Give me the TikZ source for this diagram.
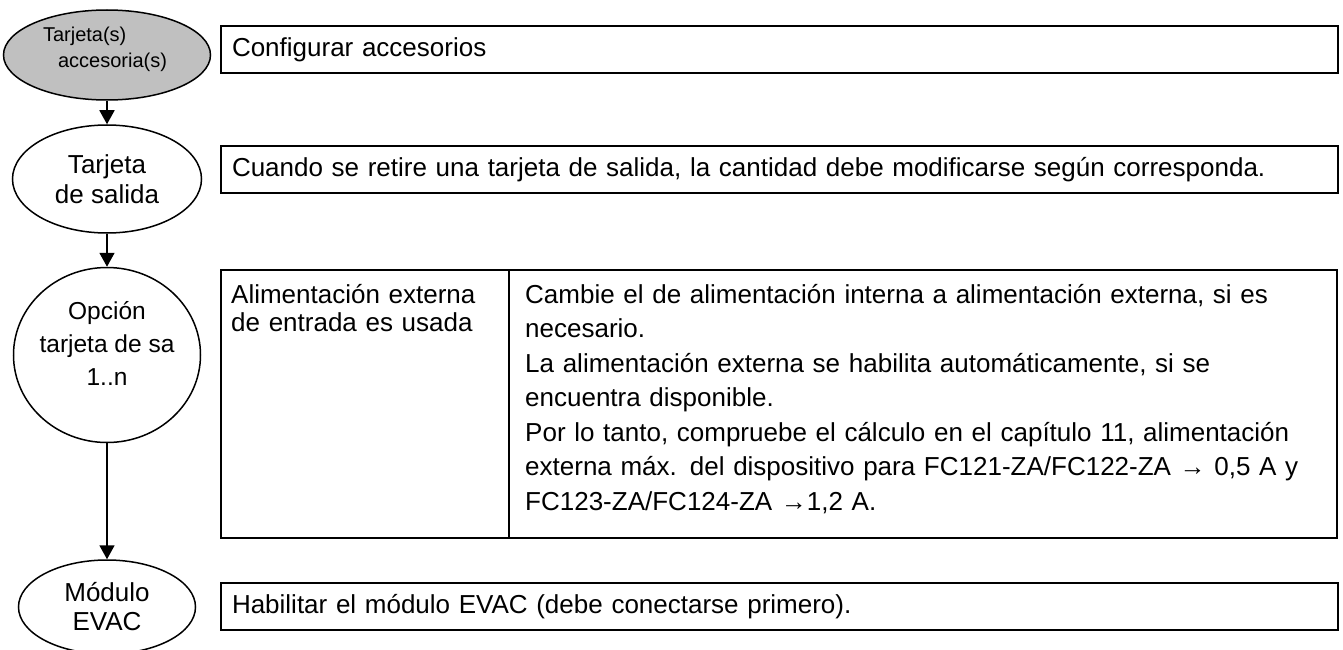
\documentclass[tikz,border=0pt]{standalone}
\usepackage{fontspec}
\setmainfont{Liberation Sans}
\usepackage{xcolor}
\definecolor{cardgray}{RGB}{192,192,192}
\usetikzlibrary{arrows.meta, positioning, shapes.geometric}

\tikzset{
  stage/.style={draw, ellipse, line width=1.5pt, inner sep=0pt, align=center,
                font=\fontsize{26}{30}\selectfont},
  infobox/.style={draw, rectangle, line width=2.6pt, outer sep=0pt, anchor=north west,
                  inner xsep=11pt, inner ysep=0pt, align=left,
                  font=\fontsize{26}{32}\selectfont},
  infotext/.style={anchor=base west, inner sep=0pt, align=left,
                   font=\fontsize{26}{34.5}\selectfont},
  flow/.style={line width=1.8pt, -{Triangle[length=14pt,width=15pt]}}
}

\begin{document}
\begin{tikzpicture}[x=1pt, y=-1pt]
\useasboundingbox (0,0) rectangle (1343,650);

% === Stages (left column) ===
\node[stage, fill=cardgray, minimum width=207pt, minimum height=90pt] (acc) at (107,55) {};
\node[font=\fontsize{20}{26}\selectfont, align=left, inner sep=0pt] (accTxt) at (105,49)
     {Tarjeta(s)\\\hspace{15pt}accesoria(s)};

\node[stage, minimum width=189pt, minimum height=108pt] (outcard) at (107,179) {Tarjeta\\de salida};

\node[stage, minimum width=187pt, minimum height=175pt] (optcard) at (107,355) {};
\node[font=\fontsize{24.5}{33}\selectfont, align=center, inner sep=0pt] (optTxt) at (107,343)
     {Opción\\tarjeta de sa\\1..n};

\node[stage, minimum width=177pt, minimum height=94pt, font=\fontsize{26}{29}\selectfont]
     (evac) at (107,607) {Módulo\\EVAC};

% Flow arrows
\draw[flow] (acc.south) -- (outcard.north);
\draw[flow] (outcard.south) -- (optcard.north);
\draw[flow] (optcard.south) -- (evac.north);

% === Boxes (right column) ===
\node[infobox, minimum width=1117pt, minimum height=47pt, text width=1095pt] (cfgbox) at (221,26)
     {Configurar accesorios};

\node[infobox, minimum width=1117pt, minimum height=47pt, text width=1095pt] (outbox) at (221,146)
     {Cuando se retire una tarjeta de salida, la cantidad debe modificarse según corresponda.};

% Option box: two cells
\node[infobox, minimum width=288pt, minimum height=268pt] (powcell) at (221,270) {};
\node[infobox, minimum width=828pt, minimum height=268pt] (notecell) at (powcell.north east) {};
\node[infotext, font=\fontsize{26}{28.5}\selectfont, text width=270pt] (powTxt)
     at ([xshift=10pt, yshift=-33pt]powcell.north west)
     {Alimentación externa\\de entrada es usada};
\node[infotext, text width=800pt] (noteTxt)
     at ([xshift=16pt, yshift=-33pt]notecell.north west)
     {Cambie el de alimentación interna a alimentación externa, si es\\
      necesario.\\
      La alimentación externa se habilita automáticamente, si se\\
      encuentra disponible.\\
      Por lo tanto, compruebe el cálculo en el capítulo 11, alimentación\\
      externa máx. del dispositivo para FC121-ZA/FC122-ZA → 0,5 A y\\
      FC123-ZA/FC124-ZA →1,2 A.};

\node[infobox, minimum width=1117pt, minimum height=47pt, text width=1095pt] (evacbox) at (221,583)
     {Habilitar el módulo EVAC (debe conectarse primero).};

\end{tikzpicture}
\end{document}
